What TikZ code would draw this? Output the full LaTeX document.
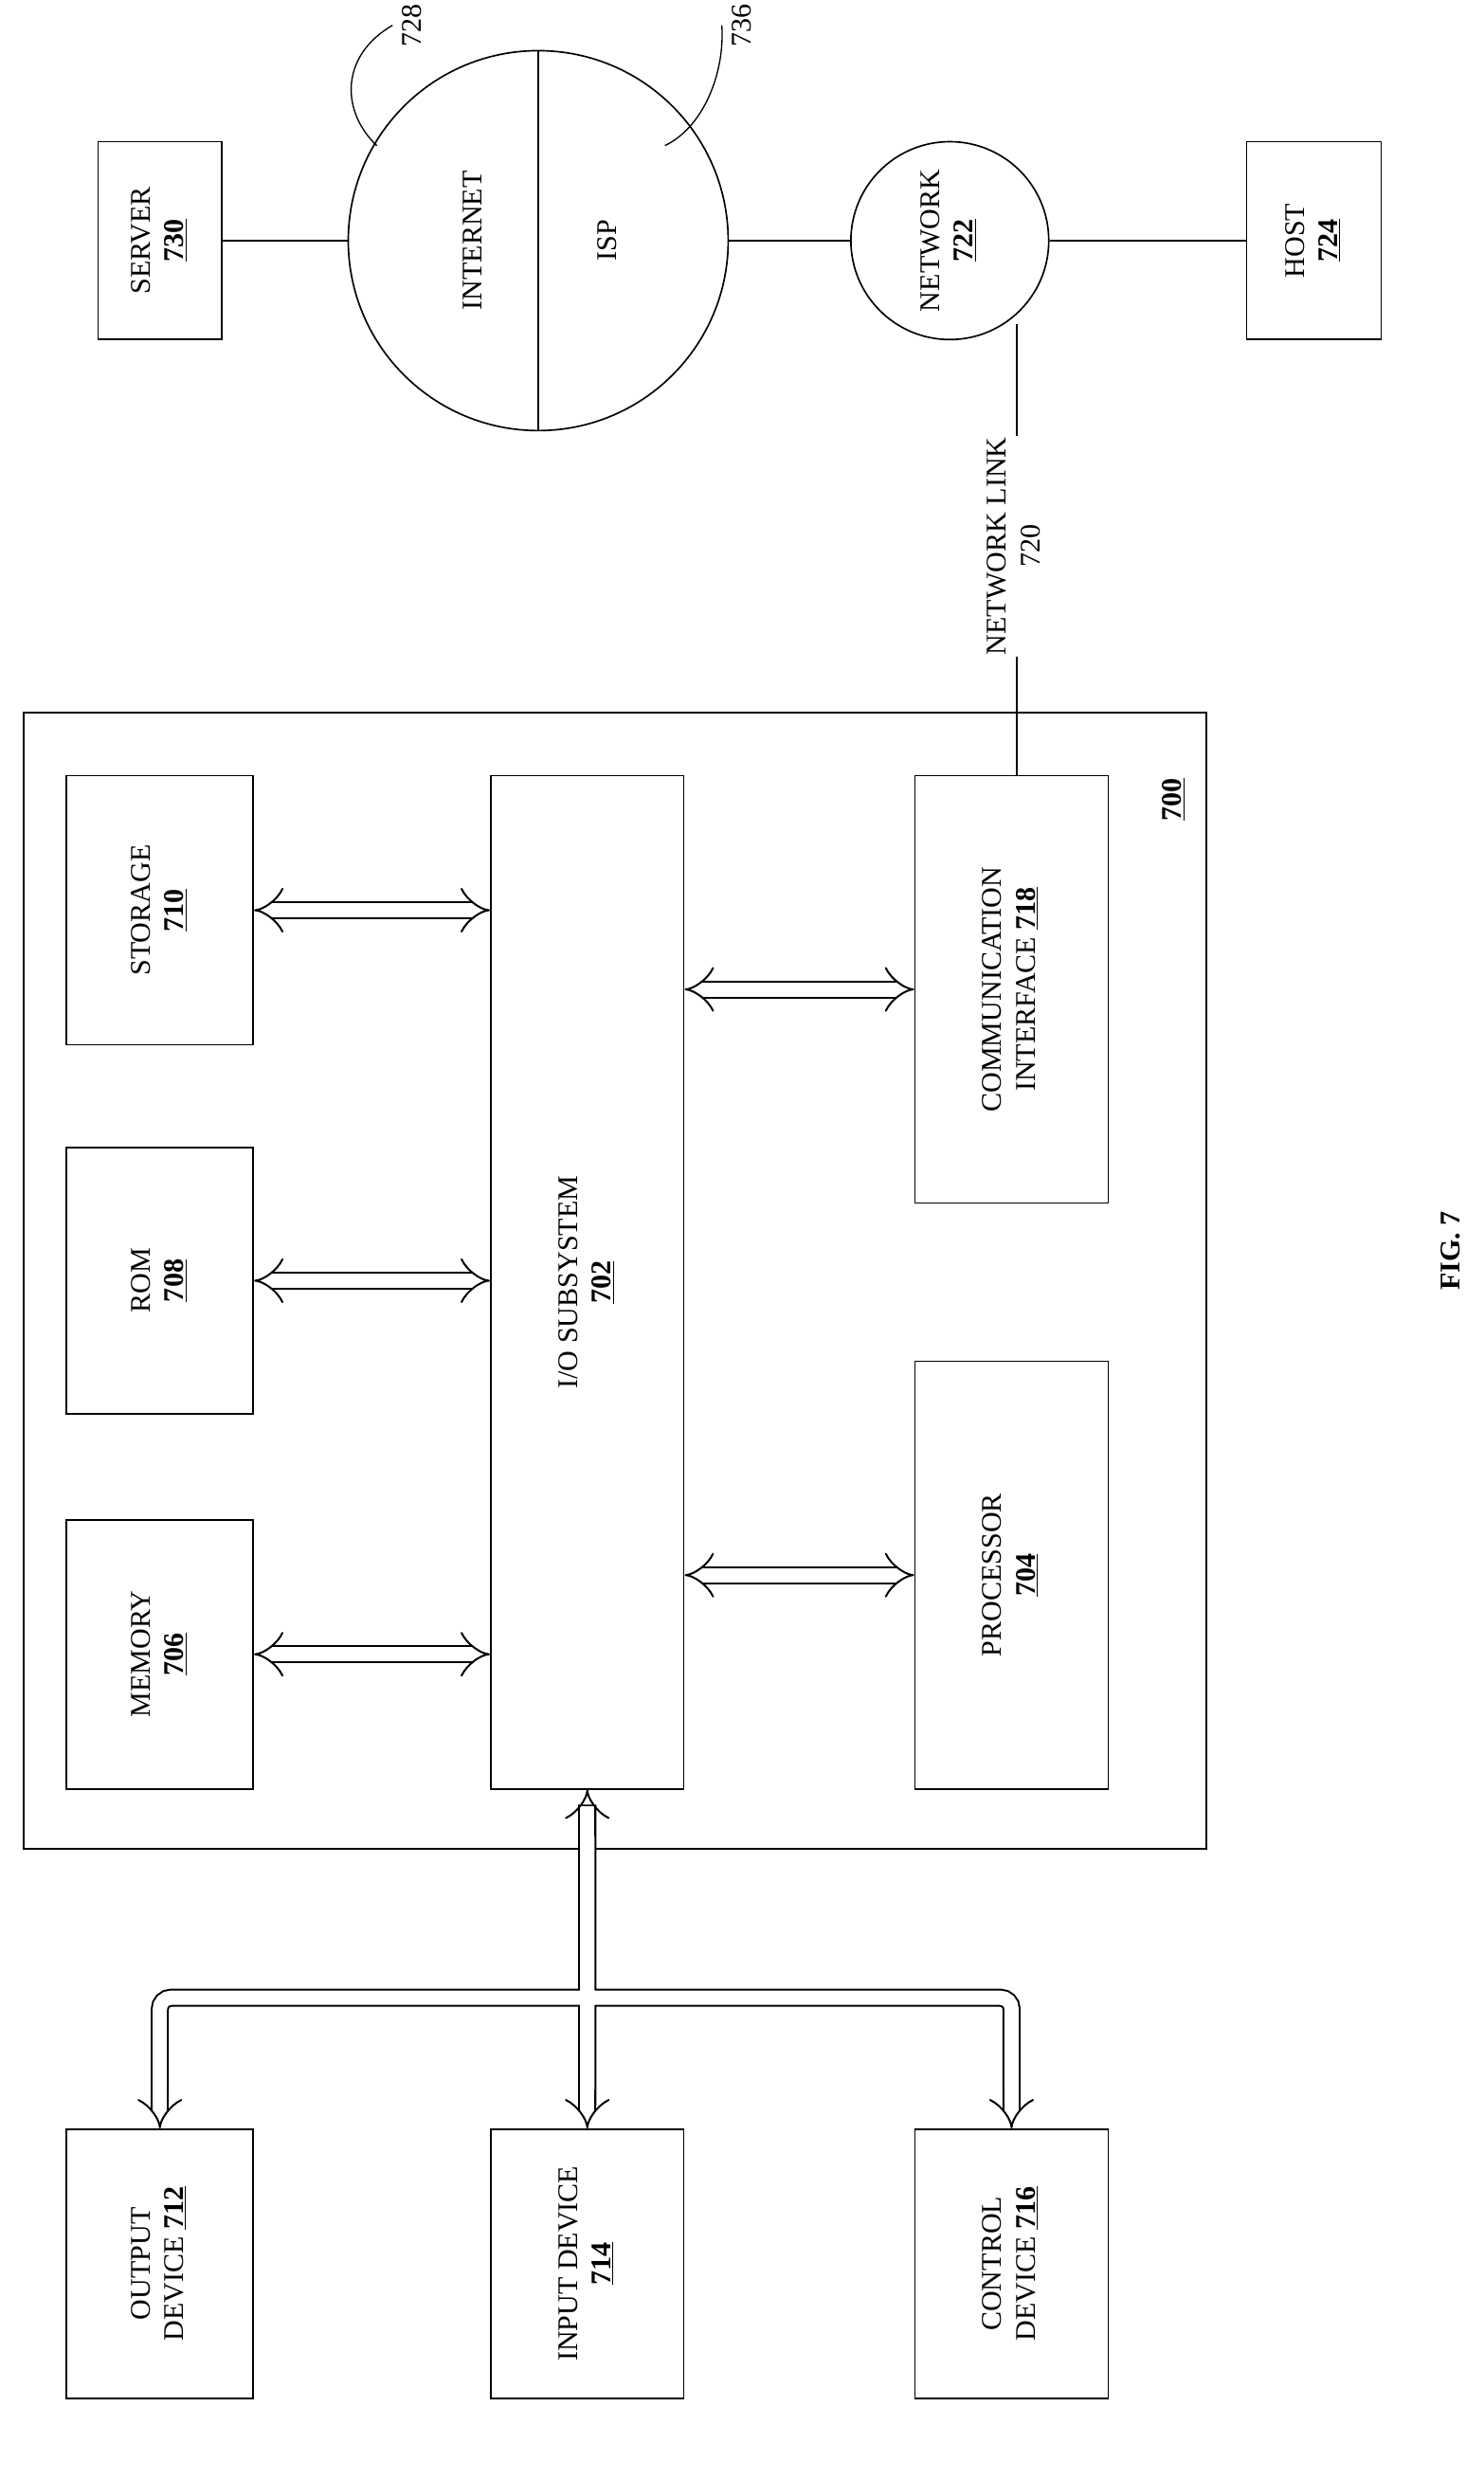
\documentclass[tikz,border=0pt]{standalone}
\usepackage{fontspec}
\setmainfont{Liberation Serif}
\usetikzlibrary{arrows.meta}
\newcommand\vlabel[1]{\rotatebox{90}{\begin{tabular}{@{}c@{}}#1\end{tabular}}}
\newcommand\refno[1]{\underline{\textbf{#1}}}
\tikzset{
  blk/.style={draw, line width=1pt, rectangle, inner sep=0pt},
  dbl/.style={double, double distance=9pt, line width=1.2pt, {Implies[length=10pt]}-{Implies[length=10pt]}},
  lnk/.style={line width=1.2pt}
}
\begin{document}
\begin{tikzpicture}[x=1pt, y=-1pt, font=\fontsize{18}{21}\selectfont]
\useasboundingbox (0,0) rectangle (937,1566);

% top row: server, internet / isp, network, host
\node[blk, minimum width=78pt, minimum height=125pt] (server) at (101,152) {\vlabel{SERVER\\\refno{730}}};
\node[draw, line width=1pt, circle, minimum size=240pt] (inet) at (340,152) {};
\draw[line width=1pt] (inet.north) -- (inet.south);
\node (inettxt) at (300,152) {\vlabel{INTERNET}};
\node (isptxt) at (385,152) {\vlabel{ISP}};
\node[draw, line width=1pt, circle, minimum size=125pt] (network) at (600,152) {\vlabel{NETWORK\\\refno{722}}};
\node[blk, minimum width=85pt, minimum height=125pt] (host) at (830,152) {\vlabel{HOST\\\refno{724}}};
\draw[lnk] (server.east) -- (inet.west);
\draw[lnk] (inet.east) -- (network.west);
\draw[lnk] (network.east) -- (host.west);

% callouts
\node (c728) at (262,16) {\vlabel{728}};
\node (c736) at (470,16) {\vlabel{736}};
\draw[line width=0.8pt] (c728.west) .. controls (215,35) and (215,70) .. (238,92);
\draw[line width=0.8pt] (c736.west) .. controls (458,45) and (445,80) .. (420,92);

% computer system 700
\node[blk, minimum width=747pt, minimum height=718pt] (sys) at (388.5,809) {};
\node (sysno) at (742,505) {\vlabel{\refno{700}}};
\node[blk, minimum width=118pt, minimum height=170pt] (storage) at (101,575) {\vlabel{STORAGE\\\refno{710}}};
\node[blk, minimum width=118pt, minimum height=168pt] (rom) at (101,809) {\vlabel{ROM\\\refno{708}}};
\node[blk, minimum width=118pt, minimum height=170pt] (memory) at (101,1045) {\vlabel{MEMORY\\\refno{706}}};
\node[blk, minimum width=122pt, minimum height=640pt] (io) at (371,810) {\vlabel{I/O SUBSYSTEM\\\refno{702}}};
\node[blk, minimum width=122pt, minimum height=270pt] (comm) at (639,625) {\vlabel{COMMUNICATION\\INTERFACE \refno{718}}};
\node[blk, minimum width=122pt, minimum height=270pt] (proc) at (639,995) {\vlabel{PROCESSOR\\\refno{704}}};

\draw[dbl] (storage.east |- 0,575) -- (io.west |- 0,575);
\draw[dbl] (rom.east) -- (io.west |- rom.east);
\draw[dbl] (memory.east) -- (io.west |- memory.east);
\draw[dbl] (io.east |- comm.west) -- (comm.west);
\draw[dbl] (io.east |- proc.west) -- (proc.west);

% network link
\draw[lnk] (network.south east) ++(-2,8) coordinate (nl) -- (nl |- comm.north);
\node[fill=white, inner sep=1pt] (nltxt) at (642,345) {\vlabel{NETWORK LINK\\720}};

% peripherals
\node[blk, minimum width=118pt, minimum height=170pt] (output) at (101,1430) {\vlabel{OUTPUT\\DEVICE \refno{712}}};
\node[blk, minimum width=122pt, minimum height=170pt] (input) at (371,1430) {\vlabel{INPUT DEVICE\\\refno{714}}};
\node[blk, minimum width=122pt, minimum height=170pt] (control) at (639,1430) {\vlabel{CONTROL\\DEVICE \refno{716}}};

% bus
\coordinate (jn) at (371,1262);
\draw[line width=11.4pt, rounded corners=7pt] (101,1330) |- (639,1262) -- (639,1330) (371,1330) -- (371,1140);
\draw[white, line width=9pt, rounded corners=7pt] (101,1331) |- (639,1262) -- (639,1331) (371,1331) -- (371,1141);
\draw[dbl, {Implies[length=10pt]}-] (io.south) -- (371,1160);
\draw[dbl, -{Implies[length=10pt]}] (101,1320) -- (output.north);
\draw[dbl, -{Implies[length=10pt]}] (371,1320) -- (input.north);
\draw[dbl, -{Implies[length=10pt]}] (639,1320) -- (control.north);

\node (fig) at (918,790) {\vlabel{\textbf{FIG. 7}}};
\end{tikzpicture}
\end{document}
